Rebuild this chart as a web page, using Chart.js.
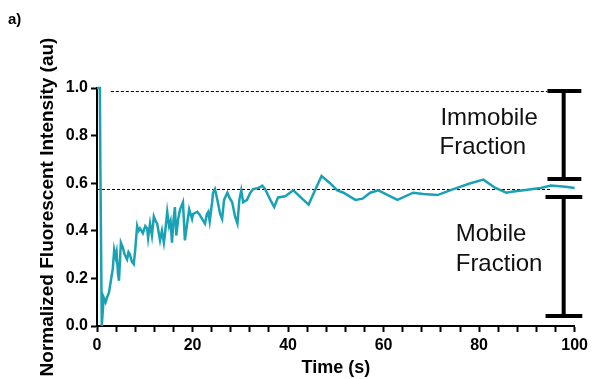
<!DOCTYPE html>
<html>
<head>
<meta charset="utf-8">
<script src="https://cdn.jsdelivr.net/npm/chart.js@4/dist/chart.umd.min.js"></script>
<style>
  html, body { margin: 0; padding: 0; background: #fff; }
  #wrap { width: 592px; height: 379px; }
</style>
</head>
<body>
<div id="wrap"><canvas id="frapChart"></canvas></div>
<script>
// FRAP recovery trace: time (s) vs normalized intensity
const times = [
  0, 0.6, 0.7, 1.0, 1.4, 1.8, 2.1, 2.5, 2.9, 3.3, 3.6, 3.9, 4.1, 4.4, 4.6, 5.0,
  5.4, 5.8, 6.3, 6.6, 6.9, 7.3, 7.7, 8.0, 8.4, 8.7, 9.0, 9.6, 10.1, 10.5, 10.7,
  11.1, 11.5, 11.9, 12.3, 12.6, 13.2, 13.6, 14.0, 14.2, 14.7, 15.1, 15.4, 15.7,
  16.0, 16.3, 16.6, 17.0, 17.4, 18.0, 18.4, 18.8, 19.3, 19.9, 20.1, 21.0, 21.4,
  22.0, 22.6, 23.0, 23.3, 23.6, 24.1, 24.3, 24.7, 25.2, 25.8, 26.2, 26.6, 27.3,
  27.7, 28.3, 28.9, 29.4, 29.8, 30.2, 30.6, 31.4, 32.1, 32.7, 33.8, 34.6, 35.2,
  36.3, 37.1, 37.9, 39.4, 41.1, 44.3, 47.0, 48.8, 50.3, 51.6, 54.1, 55.6, 57.2,
  58.9, 62.9, 66.2, 68.3, 71.3, 74.6, 78.2, 80.9, 83.4, 85.7, 87.2, 89.3, 92.9,
  95.0, 98.1, 100
];
const intensity = [
  1.0, 1.0, 0.69, 0.0, 0.12, 0.10, 0.12, 0.14, 0.19, 0.24, 0.32, 0.29, 0.31, 0.22, 0.19, 0.35,
  0.33, 0.30, 0.28, 0.31, 0.30, 0.27, 0.26, 0.32, 0.42, 0.40, 0.41, 0.39, 0.42, 0.41, 0.37,
  0.43, 0.38, 0.46, 0.44, 0.43, 0.36, 0.40, 0.35, 0.38, 0.48, 0.42, 0.44, 0.35,
  0.44, 0.50, 0.38, 0.45, 0.49, 0.52, 0.36, 0.42, 0.49, 0.45, 0.47, 0.48, 0.47,
  0.45, 0.43, 0.47, 0.48, 0.44, 0.52, 0.56, 0.575, 0.53, 0.47, 0.45, 0.53, 0.56,
  0.54, 0.52, 0.46, 0.43, 0.53, 0.57, 0.52, 0.53, 0.56, 0.575, 0.58, 0.59, 0.575,
  0.53, 0.50, 0.54, 0.545, 0.57, 0.51, 0.63, 0.60, 0.57, 0.56, 0.53, 0.535, 0.56,
  0.57, 0.53, 0.56, 0.555, 0.55, 0.575, 0.60, 0.615, 0.58, 0.56, 0.565, 0.57, 0.58,
  0.59, 0.585, 0.58
];

const xTickLabels = [0, 20, 40, 60, 80, 100];

// reference levels for the bracket annotation
const fullLevel = 0.987;
const plateauLevel = 0.576;

const lineColor = '#19a2b4';
const fontFamily = '"Liberation Sans", Arial, Helvetica, sans-serif';

const fractionNotes = {
  id: 'fractionNotes',
  beforeDatasetsDraw(chart) {
    const { ctx, scales: { x, y } } = chart;
    ctx.save();
    ctx.strokeStyle = '#000';
    ctx.lineWidth = 1;
    ctx.setLineDash([3, 2]);
    ctx.beginPath();
    ctx.moveTo(x.getPixelForValue(2.9), Math.round(y.getPixelForValue(fullLevel)) + 0.5);
    ctx.lineTo(x.getPixelForValue(94.3), Math.round(y.getPixelForValue(fullLevel)) + 0.5);
    ctx.moveTo(x.getPixelForValue(0), Math.round(y.getPixelForValue(plateauLevel)) + 0.5);
    ctx.lineTo(x.getPixelForValue(95.0), Math.round(y.getPixelForValue(plateauLevel)) + 0.5);
    ctx.stroke();
    ctx.restore();
  },
  afterDraw(chart) {
    const { ctx, scales: { x, y } } = chart;
    ctx.save();

    // brackets
    const bracket = (top, bottom, x0, x1) => {
      const xm = x.getPixelForValue(97.7);
      const yt = y.getPixelForValue(top);
      const yb = y.getPixelForValue(bottom);
      const l = x.getPixelForValue(x0);
      const r = x.getPixelForValue(x1);
      ctx.beginPath();
      ctx.moveTo(l, yt); ctx.lineTo(r, yt);
      ctx.moveTo(xm, yt); ctx.lineTo(xm, yb);
      ctx.moveTo(l, yb); ctx.lineTo(r, yb);
      ctx.stroke();
    };
    ctx.strokeStyle = '#000';
    ctx.lineWidth = 4;
    ctx.lineCap = 'butt';
    bracket(fullLevel, 0.618, 94.3, 101.4);
    bracket(0.542, 0.042, 93.9, 101.6);

    // labels
    ctx.fillStyle = '#111';
    ctx.font = '24px ' + fontFamily;
    ctx.textAlign = 'left';
    ctx.textBaseline = 'alphabetic';
    ctx.fillText('Immobile', x.getPixelForValue(71.9), y.getPixelForValue(0.845));
    ctx.fillText('Fraction', x.getPixelForValue(71.7), y.getPixelForValue(0.723));
    ctx.fillText('Mobile', x.getPixelForValue(75.1), y.getPixelForValue(0.357));
    ctx.fillText('Fraction', x.getPixelForValue(75.1), y.getPixelForValue(0.231));

    // panel letter
    ctx.fillStyle = '#000';
    ctx.font = 'bold 15px ' + fontFamily;
    ctx.fillText('a)', 8, 24);
    ctx.restore();
  }
};

new Chart(document.getElementById('frapChart'), {
  type: 'line',
  data: {
    datasets: [{
      data: times.map((t, i) => ({ x: t, y: intensity[i] })),
      borderColor: lineColor,
      borderWidth: 2.5,
      pointRadius: 0,
      tension: 0,
      fill: false,
      clip: false
    }]
  },
  options: {
    responsive: true,
    maintainAspectRatio: false,
    animation: false,
    events: [],
    layout: { padding: { left: 0, right: 17, top: 88, bottom: 0 } },
    plugins: {
      legend: { display: false },
      tooltip: { enabled: false }
    },
    scales: {
      x: {
        type: 'linear',
        min: 0,
        max: 100,
        afterFit: (scale) => { scale.height = 53; },
        border: { display: true, color: '#000', width: 2 },
        grid: { drawOnChartArea: false, drawTicks: true, tickLength: 6, tickWidth: 2, tickColor: '#000' },
        ticks: {
          stepSize: 4,
          maxTicksLimit: 30,
          autoSkip: false,
          maxRotation: 0,
          padding: 4,
          color: '#000',
          font: { family: fontFamily, size: 16, weight: 'bold' },
          callback: (v) => (xTickLabels.includes(v) ? String(v) : '')
        },
        title: {
          display: true,
          text: 'Time (s)',
          color: '#000',
          font: { family: fontFamily, size: 18, weight: 'bold' },
          padding: { top: 0, bottom: 0 }
        }
      },
      y: {
        min: 0,
        max: 1.0,
        afterFit: (scale) => { scale.width = 97; },
        border: { display: true, color: '#000', width: 2 },
        grid: { drawOnChartArea: false, drawTicks: true, tickLength: 6, tickWidth: 2, tickColor: '#000' },
        ticks: {
          stepSize: 0.2,
          padding: 3,
          color: '#000',
          font: { family: fontFamily, size: 16, weight: 'bold' },
          callback: (v) => v.toFixed(1)
        },
        title: {
          display: true,
          text: 'Normalized Fluorescent Intensity (au)',
          color: '#000',
          font: { family: fontFamily, size: 19, weight: 'bold' },
          padding: { top: 36, bottom: 0 }
        }
      }
    }
  },
  plugins: [fractionNotes]
});
</script>
</body>
</html>
